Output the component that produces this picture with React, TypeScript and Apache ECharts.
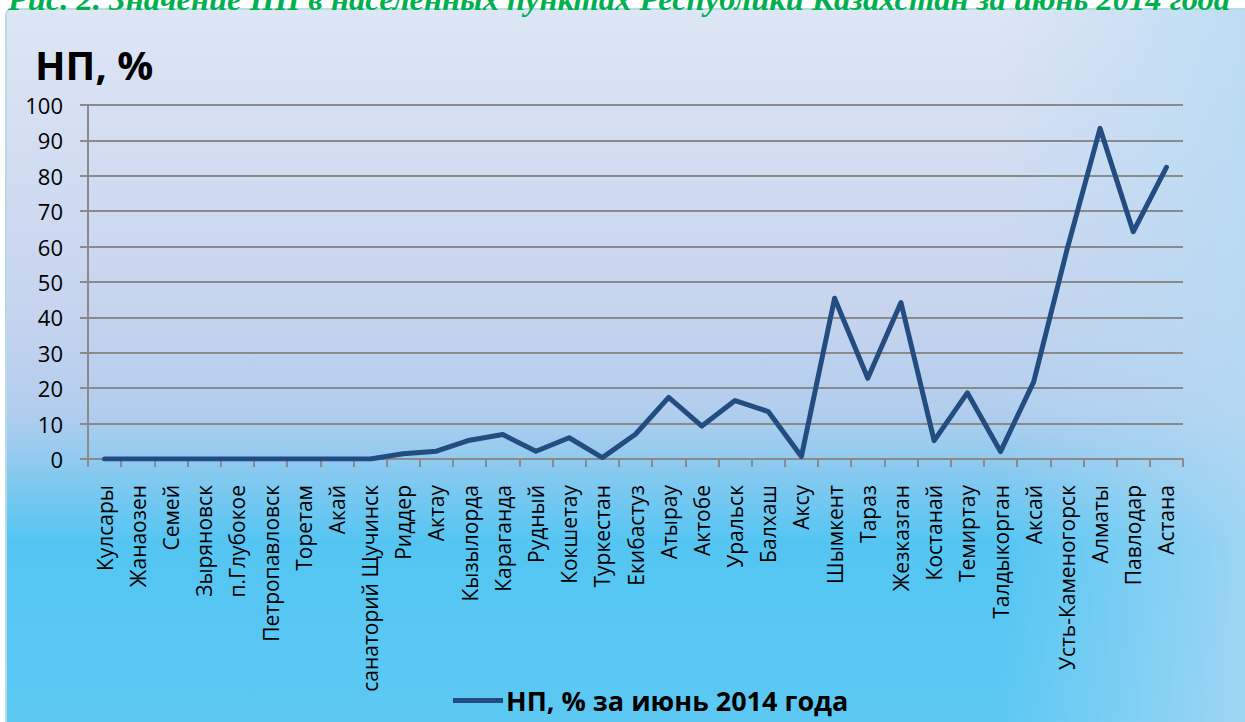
import React, { useEffect, useRef } from "react";
import * as echarts from "echarts";

const cities: string[] = [
  "Кулсары", "Жанаозен", "Семей", "Зыряновск", "п.Глубокое", "Петропавловск",
  "Торетам", "Акай", "санаторий Щучинск", "Риддер", "Актау", "Кызылорда",
  "Караганда", "Рудный", "Кокшетау", "Туркестан", "Екибастуз", "Атырау",
  "Актобе", "Уральск", "Балхаш", "Аксу", "Шымкент", "Тараз", "Жезказган",
  "Костанай", "Темиртау", "Талдыкорган", "Аксай", "Усть-Каменогорск",
  "Алматы", "Павлодар", "Астана",
];

const npValues: number[] = [
  0, 0, 0, 0, 0, 0, 0, 0, 0, 1.5, 2.2, 5.3, 6.9, 2.2, 6.0, 0.4, 7.0, 17.4,
  9.3, 16.5, 13.4, 0.7, 45.4, 22.8, 44.2, 5.2, 18.7, 2.1, 21.8, 59, 93.4,
  64.2, 82.4,
];

const seriesName = "НП, % за июнь 2014 года";
const yTitle = "НП, %";
const pageTitle =
  "Рис. 2. Значение НП в населенных пунктах Республики Казахстан за июнь 2014 года";

export default function App() {
  const ref = useRef<HTMLDivElement>(null);
  useEffect(() => {
    document.body.style.margin = "0";
    const chart = echarts.init(ref.current!, null, { renderer: "svg" });
    const font = "'Open Sans', 'Noto Sans', sans-serif";
    chart.setOption({
      animation: false,
      backgroundColor: "#ffffff",
      graphic: [
        {
          type: "rect",
          z: -10,
          silent: true,
          shape: { x: 6, y: 9, width: 1245, height: 720, r: 6 },
          style: {
            fill: new echarts.graphic.LinearGradient(0, 0, 0, 1, [
              { offset: 0, color: "#dde6f4" },
              { offset: 0.42, color: "#c6d4ee" },
              { offset: 0.56, color: "#b2cdee" },
              { offset: 0.63, color: "#8ecaef" },
              { offset: 0.74, color: "#54c5f2" },
              { offset: 1, color: "#5dc9f3" },
            ]),
            stroke: "#b5dde8",
            lineWidth: 2,
          },
        },
        {
          type: "rect",
          z: -9,
          silent: true,
          shape: { x: 1000, y: 10, width: 245, height: 712 },
          style: {
            fill: new echarts.graphic.LinearGradient(0, 0, 1, 0, [
              { offset: 0, color: "rgba(180,218,244,0)" },
              { offset: 1, color: "rgba(180,218,244,0.75)" },
            ]),
          },
        },
        {
          type: "text",
          left: 8,
          top: -18,
          style: {
            text: pageTitle,
            fill: "#00b050",
            font: "italic bold 32.5px 'Liberation Serif', serif",
          },
        },
        {
          type: "text",
          left: 35,
          top: 44,
          style: {
            text: yTitle,
            fill: "#000000",
            font: `bold 40px ${font}`,
          },
        },
      ],
      legend: {
        bottom: 3,
        left: 448,
        itemWidth: 50,
        itemHeight: 5,
        itemGap: 4,
        icon: "rect",
        textStyle: {
          fontFamily: font,
          fontWeight: "bold",
          fontSize: 27,
          color: "#000000",
          padding: [0, 0, 0, -2],
        },
        data: [seriesName],
      },
      grid: { left: 88, right: 62, top: 105, bottom: 263 },
      xAxis: {
        type: "category",
        data: cities,
        boundaryGap: true,
        axisLine: { lineStyle: { color: "#8a8a8a", width: 2 } },
        axisTick: { show: true, interval: 0, length: 8, lineStyle: { color: "#8a8a8a", width: 2 } },
        axisLabel: {
          interval: 0,
          rotate: 90,
          margin: 26,
          fontFamily: font,
          fontSize: 21,
          color: "#000000",
        },
      },
      yAxis: {
        type: "value",
        min: 0,
        max: 100,
        interval: 10,
        axisLine: { show: true, lineStyle: { color: "#8a8a8a", width: 2 } },
        axisTick: { show: true, length: 8, lineStyle: { color: "#8a8a8a", width: 2 } },
        splitLine: { lineStyle: { color: "#8a8a8a", width: 2 } },
        axisLabel: {
          margin: 25,
          fontFamily: font,
          fontSize: 22,
          color: "#000000",
        },
      },
      series: [
        {
          name: seriesName,
          type: "line",
          data: npValues,
          symbol: "none",
          lineStyle: { color: "#234c80", width: 5, join: "round", cap: "round" },
          itemStyle: { color: "#234c80" },
        },
      ],
    });
    return () => chart.dispose();
  }, []);
  return <div ref={ref} style={{ width: 1245, height: 722 }} />;
}
